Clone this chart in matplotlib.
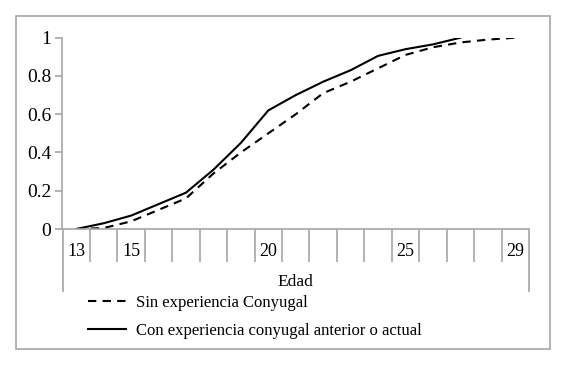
import numpy as np
import matplotlib
matplotlib.use("Agg")
import matplotlib.pyplot as plt
from matplotlib.patches import Rectangle

plt.rcParams['font.family'] = ['Liberation Serif', 'DejaVu Serif']

edades = list(range(13, 30))
etiquetas = ['13', '', '15', '', '', '', '', '20', '', '', '', '', '25', '', '', '', '29']
sin_exp = [0.0, 0.005, 0.04, 0.10, 0.16, 0.29, 0.40, 0.50, 0.60, 0.71, 0.77, 0.84,
           0.91, 0.95, 0.975, 0.99, 1.0]
con_exp = [0.0, 0.03, 0.07, 0.13, 0.19, 0.31, 0.45, 0.62, 0.70, 0.77, 0.83, 0.905,
           0.94, 0.965, 1.0]

W, H = 566, 367
fig = plt.figure(figsize=(W / 100, H / 100), dpi=100)
gris = '#a6a6a6'

# caja alrededor de todo el grafico
fig.patches.append(Rectangle((16 / W, 1 - 349 / H), (550 - 16) / W, (349 - 16) / H,
                             transform=fig.transFigure, fill=False, ec=gris, lw=1.2))

x0, x1, y0, y1 = 62.5, 529, 229, 37.7
ax = fig.add_axes([x0 / W, 1 - y0 / H, (x1 - x0) / W, (y0 - y1) / H])

x = np.arange(len(edades))
ax.plot(x, sin_exp, color='black', lw=1.5, ls=(0, (4, 3)), label='Sin experiencia Conyugal')
ax.plot(x[:len(con_exp)], con_exp, color='black', lw=1.5,
        label='Con experiencia conyugal anterior o actual')

ax.set_xlim(-0.5, len(edades) - 0.5)
ax.set_ylim(0, 1)
for s in ['top', 'right']:
    ax.spines[s].set_visible(False)
for s in ['left', 'bottom']:
    ax.spines[s].set_color(gris)
    ax.spines[s].set_linewidth(1.2)

ax.set_yticks([0, 0.2, 0.4, 0.6, 0.8, 1.0])
ax.set_yticklabels(['0', '0.2', '0.4', '0.6', '0.8', '1'])
ax.tick_params(axis='y', length=5, color=gris, width=1.2, labelsize=14, pad=3)

# separadores de categorias
bordes = np.arange(len(edades) + 1) - 0.5
alto = (y0 - y1)
ax.vlines(bordes[1:-1], -33 / alto, 0, transform=ax.get_xaxis_transform(),
          colors=gris, lw=1.2, clip_on=False)
ax.vlines([bordes[0], bordes[-1]], -63 / alto, 0, transform=ax.get_xaxis_transform(),
          colors=gris, lw=1.2, clip_on=False)

ax.set_xticks(x)
ax.set_xticklabels(etiquetas)
ax.tick_params(axis='x', length=0, labelsize=13, pad=10)

ax.text(0.5, -(282 - y0) / alto, 'Edad', transform=ax.transAxes, ha='center',
        va='center', fontsize=12.5)

leg = fig.legend(loc='upper left', bbox_to_anchor=(88 / W, 1 - 295 / H), frameon=False,
                 fontsize=12, handlelength=2.3, handletextpad=0.55, labelspacing=0.7,
                 borderpad=0, borderaxespad=0)

fig.savefig('out.png', dpi=100)
